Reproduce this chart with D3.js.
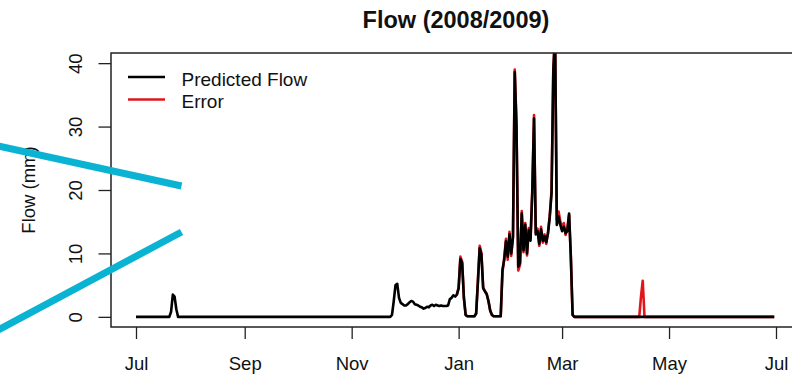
<!DOCTYPE html>
<html>
<head>
<meta charset="utf-8">
<script src="https://cdn.jsdelivr.net/npm/d3@7"></script>
<style>
  html, body { margin: 0; padding: 0; background: #fff; }
  svg { display: block; font-family: "Liberation Sans", Arial, sans-serif; }
</style>
</head>
<body>
<svg id="chart" width="792" height="376"></svg>
<script>
// ---------------- DATA ----------------
const chartTitle = "Flow (2008/2009)";
const yAxisTitle = "Flow (mm)";
const legendLabels = ["Predicted Flow", "Error"];
const yTicks = [0, 10, 20, 30, 40];
const xTickDates = ["2008-07-01", "2008-09-01", "2008-11-01", "2009-01-01", "2009-03-01", "2009-05-01", "2009-07-01"];
const xTickLabels = ["Jul", "Sep", "Nov", "Jan", "Mar", "May", "Jul"];

const predDates = [
  "2008-07-01","2008-07-20","2008-07-21","2008-07-22","2008-07-23","2008-07-24","2008-07-25",
  "2008-11-23","2008-11-24","2008-11-25","2008-11-26","2008-11-27","2008-11-28","2008-11-29","2008-11-30",
  "2008-12-01","2008-12-02","2008-12-03","2008-12-04","2008-12-05","2008-12-06","2008-12-07","2008-12-08",
  "2008-12-09","2008-12-10","2008-12-11","2008-12-12","2008-12-13","2008-12-14","2008-12-15","2008-12-16",
  "2008-12-17","2008-12-18","2008-12-19","2008-12-20","2008-12-21","2008-12-22","2008-12-23","2008-12-24",
  "2008-12-25","2008-12-26","2008-12-27","2008-12-28","2008-12-29","2008-12-30","2008-12-31",
  "2009-01-01","2009-01-02","2009-01-03","2009-01-04","2009-01-05","2009-01-06","2009-01-10","2009-01-11",
  "2009-01-12","2009-01-13","2009-01-14","2009-01-15","2009-01-16","2009-01-17","2009-01-18","2009-01-19",
  "2009-01-20","2009-01-21","2009-01-25","2009-01-26","2009-01-27","2009-01-28","2009-01-29","2009-01-30",
  "2009-01-31","2009-02-01","2009-02-02","2009-02-03","2009-02-04","2009-02-05","2009-02-06","2009-02-07",
  "2009-02-08","2009-02-09","2009-02-10","2009-02-11","2009-02-12","2009-02-13","2009-02-14","2009-02-15",
  "2009-02-16","2009-02-17","2009-02-18","2009-02-19","2009-02-20","2009-02-21","2009-02-22","2009-02-23",
  "2009-02-24","2009-02-25","2009-02-26","2009-02-27","2009-02-28","2009-03-01","2009-03-02","2009-03-03",
  "2009-03-04","2009-03-05","2009-03-06","2009-03-07","2009-03-08","2009-06-30"
];
const predValues = [
  0,0,0.8,3.5,3.2,1.2,0,
  0,0.3,2.5,5.0,5.2,3.0,2.2,2.0,
  1.8,1.8,2.0,2.3,2.5,2.4,2.0,1.9,
  1.8,1.6,1.5,1.3,1.4,1.6,1.5,1.8,
  1.9,1.7,1.9,1.8,1.7,1.8,1.7,1.7,
  1.7,1.8,2.8,3.0,3.4,3.2,3.5,
  4.5,9.1,8.5,3.0,0.3,0.1,0.1,0.5,
  5.5,10.8,9.8,4.5,4.0,3.6,2.5,1.0,
  0.3,0.1,0.1,7.4,9.0,11.9,9.5,13.0,
  10.0,12.5,38.6,30.0,7.9,8.5,16.3,10.5,
  14.5,10.0,13.7,12.0,19.5,31.3,13.0,13.5,
  11.5,13.8,12.0,12.7,11.8,13.2,15.8,19.5,
  38.6,45.0,14.5,15.8,14.5,13.5,14.2,13.2,
  13.5,16.3,9.5,0.3,0,0
];

const errDates = [
  "2008-12-31","2009-01-01","2009-01-02","2009-01-03","2009-01-04","2009-01-05","2009-01-06","2009-01-10",
  "2009-01-11","2009-01-12","2009-01-13","2009-01-14","2009-01-15","2009-01-16","2009-01-17","2009-01-18",
  "2009-01-19","2009-01-20","2009-01-21","2009-01-25","2009-01-26","2009-01-27","2009-01-28","2009-01-29",
  "2009-01-30","2009-01-31","2009-02-01","2009-02-02","2009-02-03","2009-02-04","2009-02-05","2009-02-06",
  "2009-02-07","2009-02-08","2009-02-09","2009-02-10","2009-02-11","2009-02-12","2009-02-13","2009-02-14",
  "2009-02-15","2009-02-16","2009-02-17","2009-02-18","2009-02-19","2009-02-20","2009-02-21","2009-02-22",
  "2009-02-23","2009-02-24","2009-02-25","2009-02-26","2009-02-27","2009-02-28","2009-03-01","2009-03-02",
  "2009-03-03","2009-03-04","2009-03-05","2009-03-06","2009-03-07","2009-03-08","2009-04-14","2009-04-15",
  "2009-04-16","2009-04-17","2009-06-30"
];
const errValues = [
  3.5,4.6,9.5,8.7,3.0,0.3,0.1,0.1,
  0.6,5.8,11.2,10.1,4.6,4.1,3.6,2.5,
  1.0,0.3,0.1,0.1,7.0,9.3,12.3,9.0,
  13.4,9.6,12.8,39.0,30.5,7.3,8.2,16.7,
  10.2,14.8,9.7,14.0,12.3,20.0,31.8,13.3,
  13.9,11.2,14.2,11.7,13.0,11.5,13.5,16.1,
  20.0,39.2,44.0,15.3,16.6,15.0,14.0,14.8,
  12.9,14.0,16.1,9.3,0.3,0,0,3.2,
  5.7,0,0
];

// ---------------- LAYOUT ----------------
const svg = d3.select("#chart");
const parse = d3.timeParse("%Y-%m-%d");
const box = { left: 111, right: 801, top: 53, bottom: 327 };

const x = d3.scaleTime()
  .domain([parse("2008-07-01"), parse("2009-07-01")])
  .range([136, 776]);
const y = d3.scaleLinear()
  .domain([-1.6, 41.6])
  .range([box.bottom, box.top]);

const pred = predDates.map((d, i) => ({ date: parse(d), v: predValues[i] }));
const err = errDates.map((d, i) => ({ date: parse(d), v: errValues[i] }));

svg.append("defs").append("clipPath").attr("id", "plotclip")
  .append("rect")
  .attr("x", box.left).attr("y", box.top)
  .attr("width", box.right - box.left).attr("height", box.bottom - box.top);

const line = d3.line().x(d => x(d.date)).y(d => y(d.v));

const plot = svg.append("g").attr("clip-path", "url(#plotclip)");
plot.append("path").datum(err)
  .attr("d", line).attr("fill", "none")
  .attr("stroke", "#e0161b").attr("stroke-width", 2.6).attr("stroke-linejoin", "round");
plot.append("path").datum(pred)
  .attr("d", line).attr("fill", "none")
  .attr("stroke", "#000").attr("stroke-width", 2.6).attr("stroke-linejoin", "round");

// box
svg.append("rect")
  .attr("x", box.left).attr("y", box.top)
  .attr("width", box.right - box.left).attr("height", box.bottom - box.top)
  .attr("fill", "none").attr("stroke", "#222").attr("stroke-width", 1.5);

// x axis
const xAxis = d3.axisBottom(x)
  .tickValues(xTickDates.map(parse))
  .tickFormat((d, i) => xTickLabels[i])
  .tickSize(12);
const gx = svg.append("g").attr("transform", `translate(0,${box.bottom})`).call(xAxis);
gx.select(".domain").remove();
gx.selectAll(".tick line").attr("stroke", "#222").attr("stroke-width", 1.3);
gx.selectAll(".tick text")
  .attr("y", 43).attr("dy", 0)
  .attr("fill", "#111")
  .style("font-size", "18.5px")
  .style("font-family", "'Liberation Sans', Arial, sans-serif");

// y axis
const yAxis = d3.axisLeft(y).tickValues(yTicks).tickSize(12.5).tickFormat(d3.format("d"));
const gy = svg.append("g").attr("transform", `translate(${box.left},0)`).call(yAxis);
gy.select(".domain").remove();
gy.selectAll(".tick line").attr("stroke", "#222").attr("stroke-width", 1.3);
gy.selectAll(".tick text")
  .attr("x", 0).attr("y", 0).attr("dy", 0)
  .attr("text-anchor", "middle")
  .attr("transform", "translate(-29,0) rotate(-90)")
  .attr("fill", "#111")
  .style("font-size", "18.5px")
  .style("font-family", "'Liberation Sans', Arial, sans-serif");

// y axis title
svg.append("text")
  .attr("transform", `translate(35,${(box.top + box.bottom) / 2}) rotate(-90)`)
  .attr("text-anchor", "middle")
  .attr("fill", "#111")
  .style("font-size", "18.5px")
  .text(yAxisTitle);

// title
svg.append("text")
  .attr("x", (box.left + box.right) / 2).attr("y", 28)
  .attr("text-anchor", "middle")
  .attr("fill", "#111")
  .style("font-size", "23.5px").style("font-weight", "bold")
  .text(chartTitle);

// legend
const legendColors = ["#000", "#e0161b"];
const leg = svg.append("g");
legendLabels.forEach((lab, i) => {
  const ly = 77 + i * 22.6;
  leg.append("line")
    .attr("x1", 128).attr("x2", 165).attr("y1", ly).attr("y2", ly)
    .attr("stroke", legendColors[i]).attr("stroke-width", 2.5);
  leg.append("text")
    .attr("x", 181.5).attr("y", ly + 8.5)
    .attr("fill", "#111")
    .style("font-size", "19px")
    .text(lab);
});

// cyan annotation strokes over the picture
const anno = svg.append("g");
anno.append("line").attr("x1", -2).attr("y1", 146).attr("x2", 181.5).attr("y2", 186)
  .attr("stroke", "#0bb3d3").attr("stroke-width", 7);
anno.append("line").attr("x1", -2).attr("y1", 330).attr("x2", 181.5).attr("y2", 232)
  .attr("stroke", "#0bb3d3").attr("stroke-width", 7);
</script>
</body>
</html>
